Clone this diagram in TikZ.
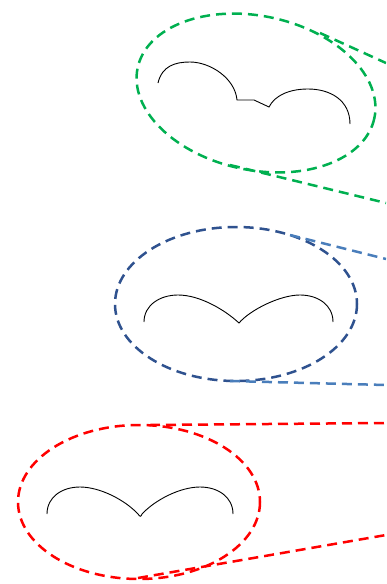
\documentclass[tikz,border=0pt]{standalone}
\usepackage{tikz}
\definecolor{gr}{RGB}{0,176,80}
\definecolor{bdark}{RGB}{47,82,143}
\definecolor{blight}{RGB}{74,126,187}
\definecolor{rd}{RGB}{255,0,0}
\tikzset{
  zoomline/.style={line width=2.5pt, dash pattern=on 10pt off 6pt},
  profile/.style={line width=0.9pt, black},
}
\begin{document}
\begin{tikzpicture}[x=1pt,y=-1pt]
\useasboundingbox (0,0) rectangle (386,584);
\clip (0,0) rectangle (386,584);
% green group
\coordinate (gc) at (256,93);
\coordinate (g1a) at (320,33); \coordinate (g1b) at (386,63);
\coordinate (g2a) at (230,165); \coordinate (g2b) at (386,203);
\draw[zoomline, gr, rotate around={-12:(gc)}] (gc) ellipse [x radius=121, y radius=77];
\draw[zoomline, gr] (g1a) -- (g1b);
\draw[zoomline, gr] (g2a) -- (g2b);
\draw[profile] (158,83) .. controls (162,66) and (175,62) .. (190,62)
  .. controls (210,62) and (235,78) .. (237,100) -- (254,100) -- (269,107)
  .. controls (275,95) and (290,89) .. (308,89)
  .. controls (330,89) and (350,100) .. (350,124);
% blue group
\coordinate (b1a) at (290,235); \coordinate (b1b) at (386,259);
\coordinate (b2a) at (230,381); \coordinate (b2b) at (386,385);
\draw[zoomline, bdark] (236,304) ellipse [x radius=121, y radius=77];
\draw[zoomline, blight] (b1a) -- (b1b);
\draw[zoomline, blight] (b2a) -- (b2b);
\draw[profile] (144,322) .. controls (144,305) and (160,295) .. (178,295)
  .. controls (200,295) and (225,310) .. (239,323)
  .. controls (250,310) and (280,295) .. (300,295)
  .. controls (318,295) and (333,305) .. (333,322);
% red group
\coordinate (r1a) at (150,425); \coordinate (r1b) at (386,423);
\coordinate (r2a) at (138,578); \coordinate (r2b) at (386,535);
\draw[zoomline, rd] (139,502) ellipse [x radius=121, y radius=77];
\draw[zoomline, rd] (r1a) -- (r1b);
\draw[zoomline, rd] (r2a) -- (r2b);
\draw[profile] (47,514) .. controls (47,497) and (62,487) .. (80,487)
  .. controls (100,487) and (125,500) .. (138,514)
  .. controls (140,517) and (141,517) .. (142,514)
  .. controls (155,500) and (180,487) .. (200,487)
  .. controls (218,487) and (233,497) .. (233,514);
\end{tikzpicture}
\end{document}
